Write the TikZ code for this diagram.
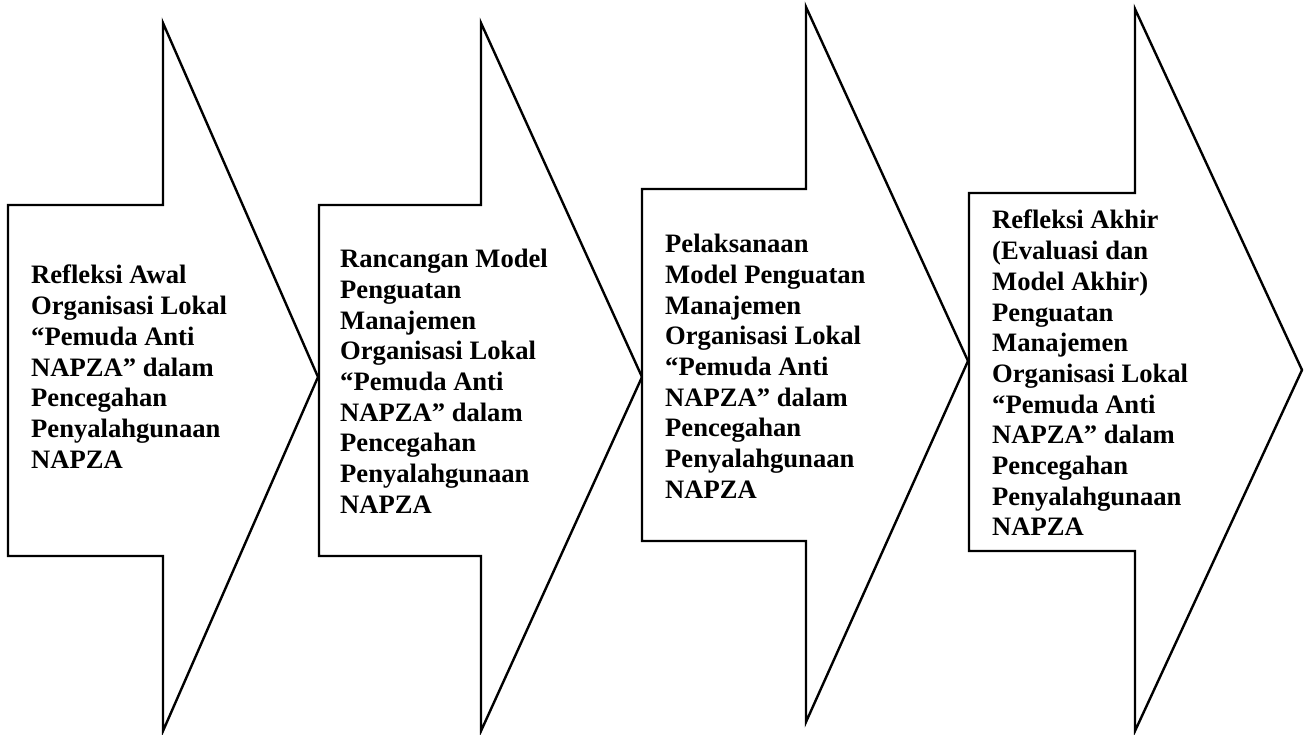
\documentclass[tikz,border=0pt]{standalone}
\usepackage{fontspec}
\setmainfont{Liberation Serif}
\usetikzlibrary{positioning}

\begin{document}
\begin{tikzpicture}[x=1pt,y=-1pt]
\tikzstyle{chevron} = [
	draw=black, %border of the arrow
	fill=white, %fill the space of the arrow
	line width=2.4pt,
	line join=miter
];
\tikzstyle{stagetext} = [
	font=\fontsize{26.6}{30.7}\selectfont\bfseries,
	align=left,
	anchor=north west,
	inner sep=0pt
];

\useasboundingbox (0,0) rectangle (1304,735);

%first stage
\draw[chevron] (8,205) -- (163,205) -- (163,23) -- (318,377) -- (163,731) -- (163,556) -- (8,556) -- cycle;
\node[stagetext](awal) at (31,265) {Refleksi Awal\\Organisasi Lokal\\“Pemuda Anti\\NAPZA” dalam\\Pencegahan\\Penyalahgunaan\\NAPZA};

%second stage
\draw[chevron] (319,205) -- (481,205) -- (481,23) -- (642,377) -- (481,731) -- (481,556) -- (319,556) -- cycle;
\node[stagetext](rancangan) at (340,249) {Rancangan Model\\Penguatan\\Manajemen\\Organisasi Lokal\\“Pemuda Anti\\NAPZA” dalam\\Pencegahan\\Penyalahgunaan\\NAPZA};

%third stage
\draw[chevron] (642,189) -- (806,189) -- (806,7) -- (968,361) -- (806,722) -- (806,541) -- (642,541) -- cycle;
\node[stagetext](pelaksanaan) at (665,234) {Pelaksanaan\\Model Penguatan\\Manajemen\\Organisasi Lokal\\“Pemuda Anti\\NAPZA” dalam\\Pencegahan\\Penyalahgunaan\\NAPZA};

%fourth stage
\draw[chevron] (969,193) -- (1135,193) -- (1135,9) -- (1302,370) -- (1135,731) -- (1135,551) -- (969,551) -- cycle;
\node[stagetext](akhir) at (992,210) {Refleksi Akhir\\(Evaluasi dan\\Model Akhir)\\Penguatan\\Manajemen\\Organisasi Lokal\\“Pemuda Anti\\NAPZA” dalam\\Pencegahan\\Penyalahgunaan\\NAPZA};

\end{tikzpicture}
\end{document}
